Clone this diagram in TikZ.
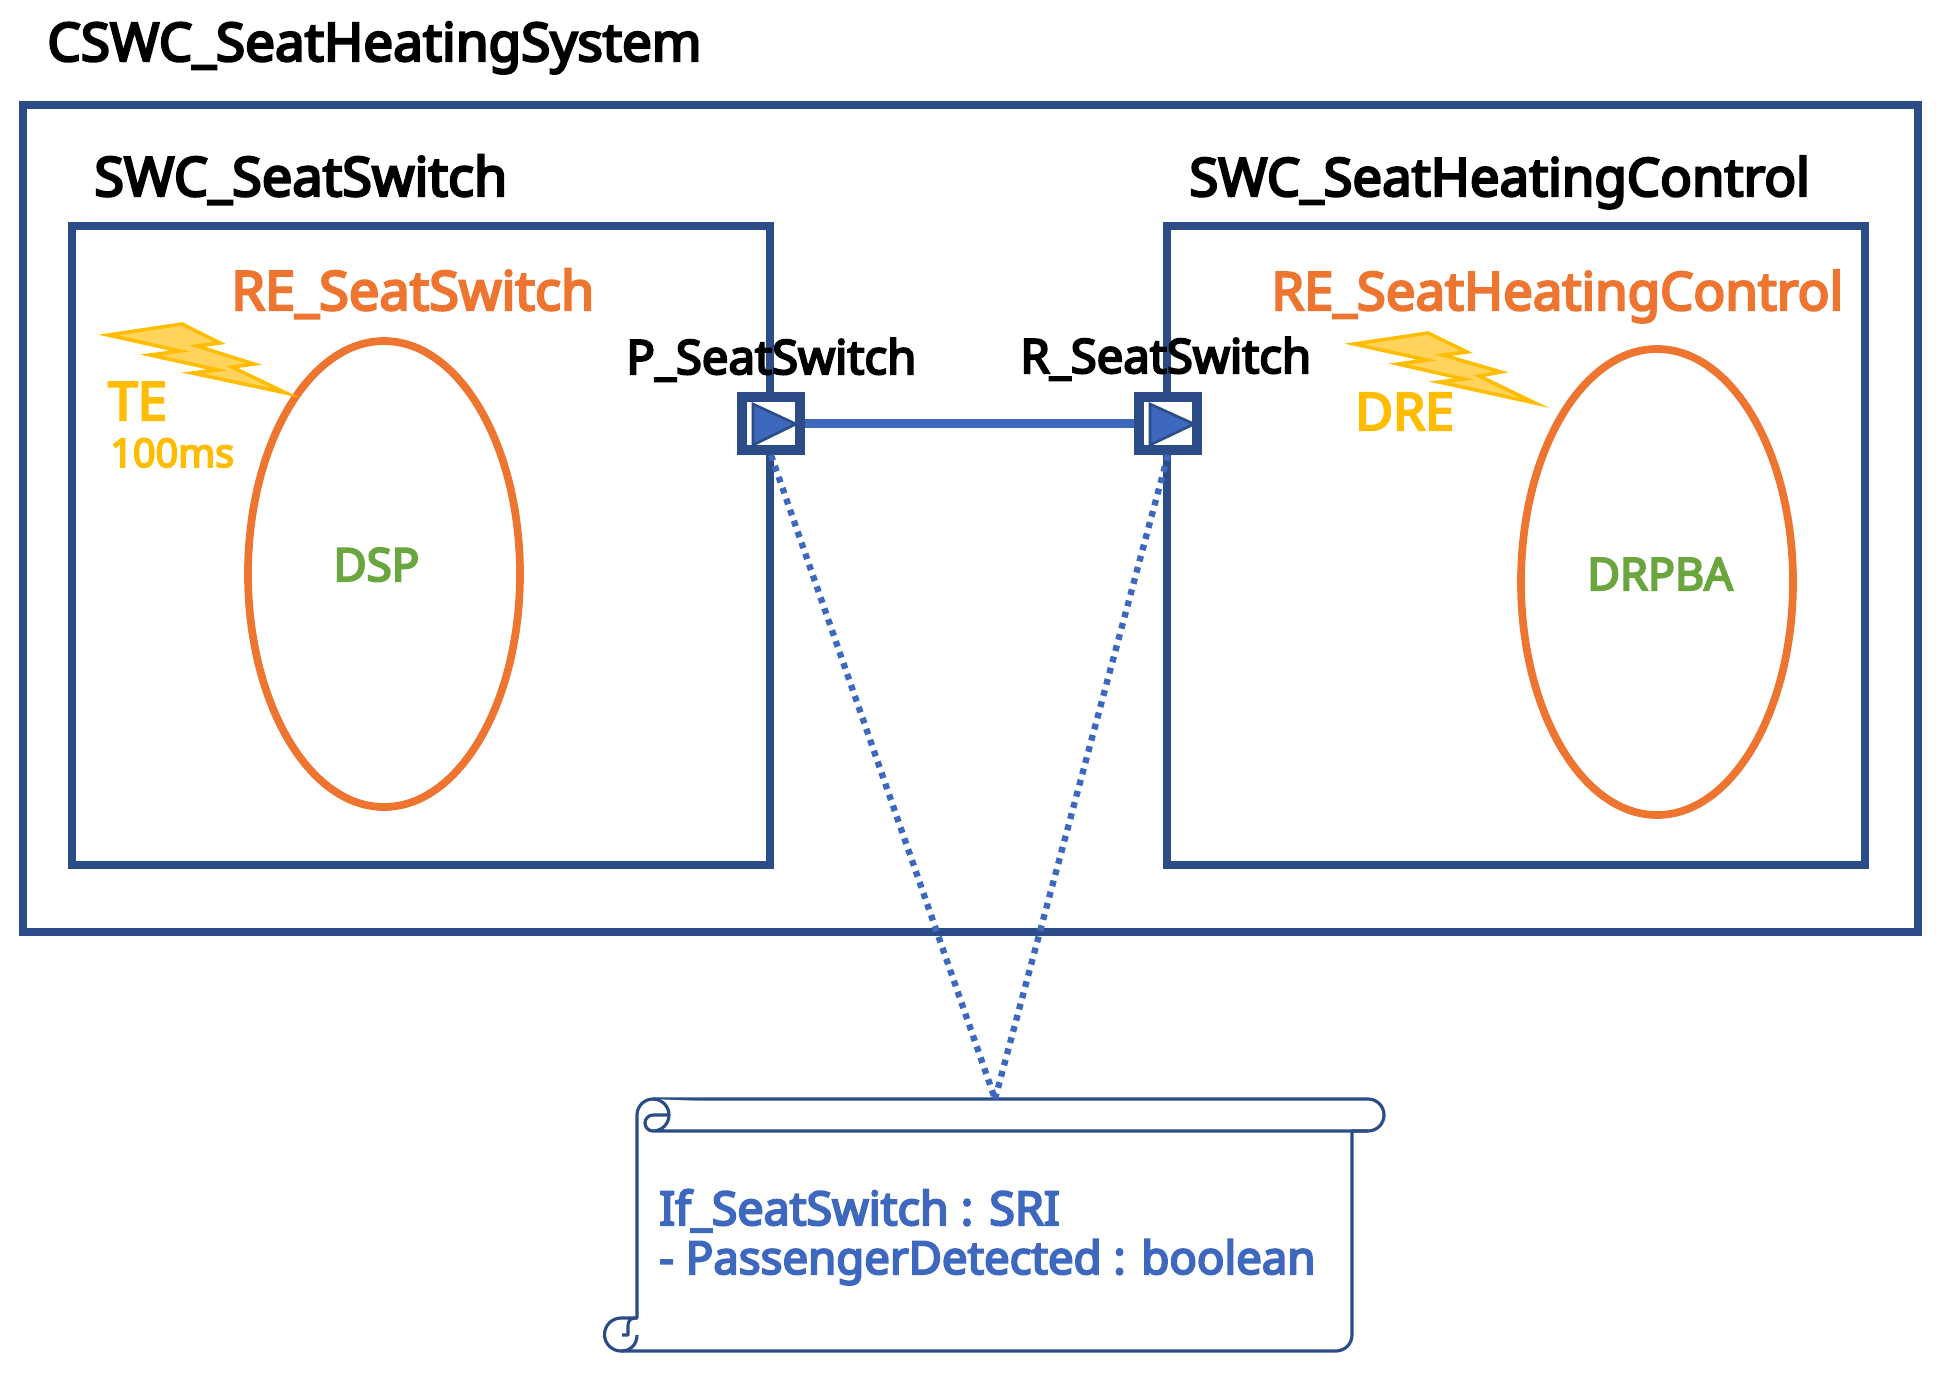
\documentclass[tikz,border=0pt]{standalone}
\usepackage{fontspec}
\setmainfont{Noto Sans}[FakeBold=4.5]
\definecolor{navyblue}{HTML}{2C4C88}
\definecolor{linkblue}{HTML}{3E68BE}
\definecolor{runorange}{HTML}{ED7530}
\definecolor{eventyellow}{HTML}{FFBC00}
\definecolor{boltfill}{HTML}{FFD35C}
\definecolor{accessgreen}{HTML}{6AA53D}
\tikzset{
  swcbox/.style={draw=navyblue, line width=4.9pt},
  runnable/.style={draw=runorange, line width=4.4pt},
  bolt/.style={draw=eventyellow, fill=boltfill, line width=2pt, miter limit=20},
  portbox/.style={draw=navyblue, fill=white, line width=5.7pt, minimum width=1.16cm, minimum height=1.06cm, inner sep=0pt},
  porttri/.style={draw=navyblue, fill=linkblue, line width=1.5pt, miter limit=20},
  scroll/.style={draw=navyblue, fill=white, line width=1.8pt, line join=round},
  txt/.style={anchor=base west, inner sep=0pt},
}
\begin{document}
\begin{tikzpicture}[x=0.02cm, y=-0.02cm]
\useasboundingbox (0,0) rectangle (1938,1374);

% Composition and the two components
\draw[swcbox] (23,105) rectangle (1918,932);
\draw[swcbox] (72,226) rectangle (770,865);
\draw[swcbox] (1167,226) rectangle (1865,865);
\node[txt, font=\fontsize{30.2}{34}\selectfont] (titleCSWC) at (47,61) {CSWC\_SeatHeatingSystem};
\node[txt, font=\fontsize{30.8}{34}\selectfont] (titleLeft) at (94,196) {SWC\_SeatSwitch};
\node[txt, font=\fontsize{30}{34}\selectfont] (titleRight) at (1189,196) {SWC\_SeatHeatingControl};

% Runnables
\draw[runnable] (384,574) circle [x radius=136, y radius=233];
\draw[runnable] (1657,582) circle [x radius=136, y radius=233];
\node[txt, text=runorange, font=\fontsize{30.8}{34}\selectfont] (reLeft) at (231,310) {RE\_SeatSwitch};
\node[txt, text=runorange, font=\fontsize{30}{34}\selectfont] (reRight) at (1271,310) {RE\_SeatHeatingControl};
\node[txt, text=accessgreen, font=\fontsize{26}{30}\selectfont] (dspLabel) at (333,581) {DSP};
\node[txt, text=accessgreen, font=\fontsize{25.5}{30}\selectfont] (drpbaLabel) at (1587,590) {DRPBA};

% Events
\draw[bolt] (108,335) -- (182,324) -- (220,343) -- (197,346) -- (254,364) -- (232,367) -- (286,393)
  -- (192,373) -- (218,370) -- (150,355) -- (180,351) -- cycle;
\draw[bolt] (1354,344) -- (1428,333) -- (1467,352) -- (1443,355) -- (1501,372) -- (1479,376) -- (1535,403)
  -- (1439,382) -- (1464,379) -- (1398,364) -- (1427,360) -- cycle;
\node[txt, text=eventyellow, font=\fontsize{30}{34}\selectfont] (teLabel) at (108,420) {TE};
\node[txt, text=eventyellow, font=\fontsize{22.5}{26}\selectfont] (periodLabel) at (110,467) {100ms};
\node[txt, text=eventyellow, font=\fontsize{29.4}{34}\selectfont] (dreLabel) at (1355,430) {DRE};

% Ports
\node[portbox] (pPort) at (771,423.5) {};
\node[portbox] (rPort) at (1168,423.5) {};
\draw[porttri] (753,404) -- (796,424) -- (753,445) -- cycle;
\draw[porttri] (1150,404) -- (1194,424) -- (1150,445) -- cycle;
\draw[linkblue, line width=5pt] (pPort.east) -- (rPort.west);
\node[txt, font=\fontsize{26.9}{30}\selectfont] (pLabel) at (626,374) {P\_SeatSwitch};
\node[txt, font=\fontsize{26.9}{30}\selectfont] (rLabel) at (1020,373) {R\_SeatSwitch};

% Interface note
\draw[scroll] (637,1115) arc [start angle=180, end angle=270, radius=16] -- (1368,1099)
  arc [start angle=-90, end angle=90, radius=16] -- (1352,1131) -- (1352,1335)
  arc [start angle=0, end angle=90, radius=16] -- (621,1351)
  arc [start angle=90, end angle=270, radius=16.5] -- (637,1318) -- cycle;
\draw[scroll] (653,1099) arc [start angle=-90, end angle=90, radius=16] -- (1368,1131);
\draw[scroll, fill=none] (669,1115) -- (653,1115) arc [start angle=-90, end angle=-270, radius=8];
\draw[scroll, fill=none] (637,1318) .. controls (630,1318) and (628,1320) .. (628,1327) -- (628,1335) -- (622,1335);
\draw[scroll, fill=none] (637,1335) .. controls (637,1345) and (630,1351) .. (621,1351);
\coordinate (noteTop) at (995,1099);
\node[txt, text=linkblue, font=\fontsize{26.5}{30}\selectfont] (noteOne) at (659,1225) {If\_SeatSwitch : SRI};
\node[txt, text=linkblue, font=\fontsize{25.9}{30}\selectfont] (noteTwo) at (659,1274) {- PassengerDetected : boolean};

% Links from the ports to the note
\draw[linkblue, line width=3.6pt, dash pattern=on 3.3pt off 3.3pt] (pPort.south) -- (noteTop);
\draw[linkblue, line width=3.6pt, dash pattern=on 3.3pt off 3.3pt] (rPort.south) -- (noteTop);
\end{tikzpicture}
\end{document}
